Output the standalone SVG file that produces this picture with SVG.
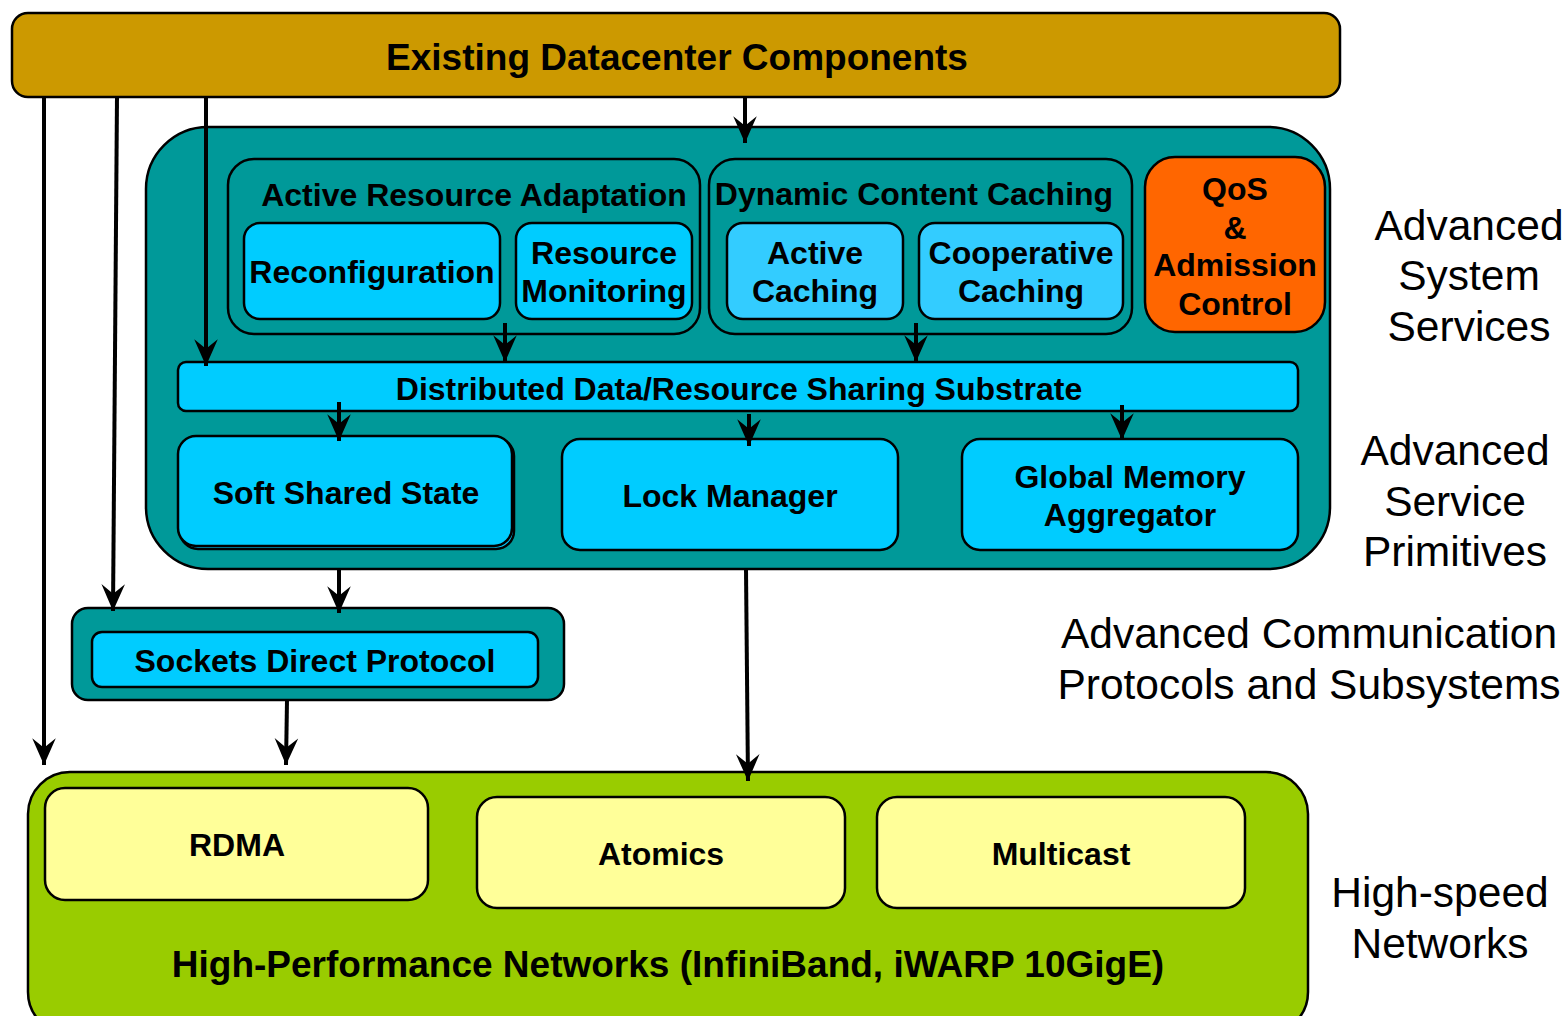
<svg xmlns="http://www.w3.org/2000/svg" width="1566" height="1016" viewBox="0 0 1566 1016">
<style>
text{font-family:"Liberation Sans",Arial,sans-serif;text-anchor:middle;fill:#000}
.b{font-weight:bold}
.box{stroke:#000;stroke-width:2.5}
.teal{fill:#009999}
.cyan{fill:#00CCFF}
.lcyan{fill:#33CCFF}
.yel{fill:#FFFF99}
.lab{font-size:42.5px}
.conn line{stroke:#000;stroke-width:4;marker-end:url(#ah)}
</style>
<defs>
<marker id="ah" markerUnits="userSpaceOnUse" markerWidth="30" markerHeight="30" viewBox="-26 -13 28 26" refX="0" refY="0" orient="auto">
<path d="M0,0 L-25,-11 L-16,0 L-25,11 Z" fill="#000"/>
</marker>
</defs>
<rect width="1566" height="1016" fill="#fff"/>

<g id="existing">
<rect class="box" x="12" y="13" width="1328" height="84" rx="16" fill="#CC9900"/>
<text class="b" x="677" y="70" font-size="37">Existing Datacenter Components</text>
</g>

<g id="advanced">
<rect class="box" x="146" y="127" width="1184" height="442" rx="62" fill="#009999"/>
</g>

<g id="ara">
<rect class="box teal" x="228" y="159" width="472" height="175" rx="26"/>
<text class="b" x="474" y="206" font-size="32">Active Resource Adaptation</text>
</g>
<g id="reconfig">
<rect class="box cyan" x="244" y="223" width="256" height="96" rx="16"/>
<text class="b" x="372" y="283" font-size="32">Reconfiguration</text>
</g>
<g id="resmon">
<rect class="box cyan" x="516" y="223" width="176" height="96" rx="16"/>
<text class="b" x="604" y="264" font-size="32">Resource</text>
<text class="b" x="604" y="302" font-size="32">Monitoring</text>
</g>

<g id="dcc">
<rect class="box teal" x="709" y="159" width="423" height="175" rx="26"/>
<text class="b" x="914" y="205" font-size="32">Dynamic Content Caching</text>
</g>
<g id="activecache">
<rect class="box lcyan" x="727" y="223" width="176" height="96" rx="16"/>
<text class="b" x="815" y="264" font-size="32">Active</text>
<text class="b" x="815" y="302" font-size="32">Caching</text>
</g>
<g id="coopcache">
<rect class="box lcyan" x="919" y="223" width="204" height="96" rx="16"/>
<text class="b" x="1021" y="264" font-size="32">Cooperative</text>
<text class="b" x="1021" y="302" font-size="32">Caching</text>
</g>

<g id="qos">
<rect class="box" x="1145" y="157" width="180" height="175" rx="30" fill="#FF6600"/>
<text class="b" x="1235" y="200" font-size="32">QoS</text>
<text class="b" x="1235" y="239" font-size="32">&amp;</text>
<text class="b" x="1235" y="276" font-size="32">Admission</text>
<text class="b" x="1235" y="315" font-size="32">Control</text>
</g>

<g id="substrate">
<rect class="box cyan" x="178" y="362" width="1120" height="49" rx="8"/>
<text class="b" x="739" y="400" font-size="32">Distributed Data/Resource Sharing Substrate</text>
</g>

<g id="sss">
<rect class="box cyan" x="180" y="438" width="334" height="111" rx="18"/>
<rect class="box cyan" x="178" y="436" width="334" height="110" rx="18"/>
<text class="b" x="346" y="504" font-size="32">Soft Shared State</text>
</g>
<g id="lock">
<rect class="box cyan" x="562" y="439" width="336" height="111" rx="18"/>
<text class="b" x="730" y="507" font-size="32">Lock Manager</text>
</g>
<g id="gma">
<rect class="box cyan" x="962" y="439" width="336" height="111" rx="18"/>
<text class="b" x="1130" y="488" font-size="32">Global Memory</text>
<text class="b" x="1130" y="526" font-size="32">Aggregator</text>
</g>

<g id="sdp-group">
<rect class="box teal" x="72" y="608" width="492" height="92" rx="16"/>
</g>
<g id="sdp">
<rect class="box cyan" x="92" y="632" width="446" height="55" rx="10"/>
<text class="b" x="315" y="672" font-size="32">Sockets Direct Protocol</text>
</g>

<g id="hpn">
<rect class="box" x="28" y="772" width="1280" height="262" rx="42" fill="#99CC00"/>
<text class="b" x="668" y="977" font-size="37">High-Performance Networks (InfiniBand, iWARP 10GigE)</text>
</g>
<g id="rdma">
<rect class="box yel" x="45" y="788" width="383" height="112" rx="20"/>
<text class="b" x="237" y="856" font-size="32">RDMA</text>
</g>
<g id="atomics">
<rect class="box yel" x="477" y="797" width="368" height="111" rx="20"/>
<text class="b" x="661" y="865" font-size="32">Atomics</text>
</g>
<g id="multicast">
<rect class="box yel" x="877" y="797" width="368" height="111" rx="20"/>
<text class="b" x="1061" y="865" font-size="32">Multicast</text>
</g>

<g id="labels">
<text class="lab" x="1469" y="240">Advanced</text>
<text class="lab" x="1469" y="290">System</text>
<text class="lab" x="1469" y="341">Services</text>
<text class="lab" x="1455" y="465">Advanced</text>
<text class="lab" x="1455" y="516">Service</text>
<text class="lab" x="1455" y="566">Primitives</text>
<text class="lab" x="1309" y="648">Advanced Communication</text>
<text class="lab" x="1309" y="699">Protocols and Subsystems</text>
<text class="lab" x="1440" y="907">High-speed</text>
<text class="lab" x="1440" y="958">Networks</text>
</g>

<g class="conn" id="connectors">
<line x1="745" y1="97" x2="745" y2="143"/>
<line x1="206" y1="97" x2="206" y2="366"/>
<line x1="117" y1="97" x2="113" y2="611"/>
<line x1="44" y1="97" x2="44" y2="765"/>
<line x1="505" y1="323" x2="505" y2="362"/>
<line x1="916" y1="323" x2="916" y2="362"/>
<line x1="339" y1="402" x2="339" y2="441"/>
<line x1="749" y1="414" x2="749" y2="446"/>
<line x1="1122" y1="405" x2="1122" y2="440"/>
<line x1="339" y1="569" x2="339" y2="613"/>
<line x1="287" y1="700" x2="286" y2="765"/>
<line x1="746" y1="569" x2="748" y2="781"/>
</g>
</svg>
